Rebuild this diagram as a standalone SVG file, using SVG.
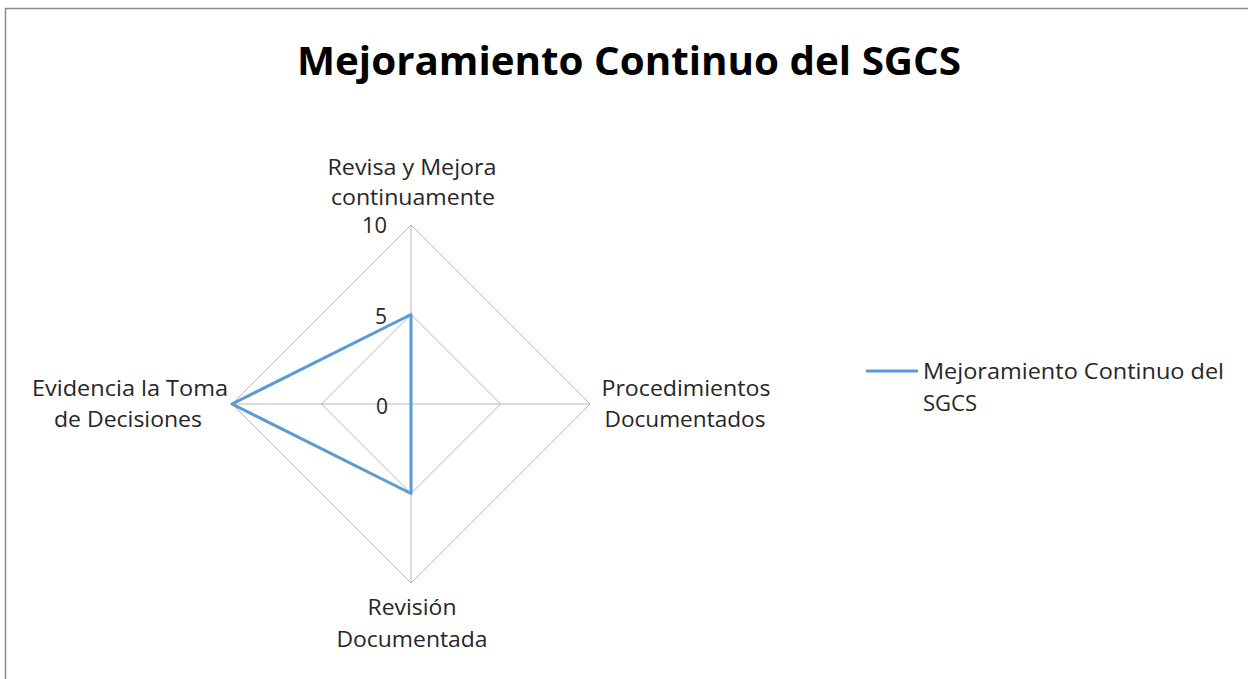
<svg xmlns="http://www.w3.org/2000/svg" width="1248" height="679" viewBox="0 0 1248 679">
<style>
.t{font-family:"Open Sans","Liberation Sans",sans-serif;font-size:21px;fill:#262626}
.c{text-anchor:middle}
.e{text-anchor:end}
.g{fill:none;stroke:#b8b8b8;stroke-width:1}
</style>
<rect x="0" y="0" width="1248" height="679" fill="#fff"/>
<path d="M5.5 679 V8.5 H1248" fill="none" stroke="#8a8a8a" stroke-width="1.5"/>
<text x="629" y="75" text-anchor="middle" font-family="'Open Sans','Liberation Sans',sans-serif" font-weight="bold" font-size="40" fill="#000" textLength="664" lengthAdjust="spacingAndGlyphs">Mejoramiento Continuo del SGCS</text>
<g id="grid">
<polygon class="g" points="411,225 590,404 411,583 232,404"/>
<polygon class="g" points="411,314.5 500.5,404 411,493.5 321.5,404"/>
<line class="g" x1="411" y1="225" x2="411" y2="583"/>
<line class="g" x1="232" y1="404" x2="590" y2="404"/>
</g>
<g id="ticks">
<text class="t e" x="387" y="233" textLength="25" lengthAdjust="spacingAndGlyphs">10</text>
<text class="t e" x="387" y="324">5</text>
<text class="t e" x="388" y="414">0</text>
</g>
<g id="connectors">
<polygon points="411,314.5 411,404 411,493.5 232,404" fill="none" stroke="#5b9bd5" stroke-width="3" stroke-linejoin="round"/>
</g>
<g id="axis-top"><text class="t c" x="412" y="175" textLength="169" lengthAdjust="spacingAndGlyphs">Revisa y Mejora</text><text class="t c" x="413" y="205" textLength="164" lengthAdjust="spacingAndGlyphs">continuamente</text></g>
<g id="axis-right"><text class="t c" x="686" y="396" textLength="169" lengthAdjust="spacingAndGlyphs">Procedimientos</text><text class="t c" x="685" y="427" textLength="161" lengthAdjust="spacingAndGlyphs">Documentados</text></g>
<g id="axis-bottom"><text class="t c" x="412" y="615" textLength="89" lengthAdjust="spacingAndGlyphs">Revisión</text><text class="t c" x="412" y="647" textLength="151" lengthAdjust="spacingAndGlyphs">Documentada</text></g>
<g id="axis-left"><text class="t c" x="130" y="396" textLength="196" lengthAdjust="spacingAndGlyphs">Evidencia la Toma</text><text class="t c" x="128" y="427" textLength="148" lengthAdjust="spacingAndGlyphs">de Decisiones</text></g>
<g id="legend">
<line x1="866" y1="371" x2="918" y2="371" stroke="#5b9bd5" stroke-width="3"/>
<text class="t" x="923" y="379" textLength="301" lengthAdjust="spacingAndGlyphs">Mejoramiento Continuo del</text>
<text class="t" x="923" y="411" textLength="54" lengthAdjust="spacingAndGlyphs">SGCS</text>
</g>
</svg>
